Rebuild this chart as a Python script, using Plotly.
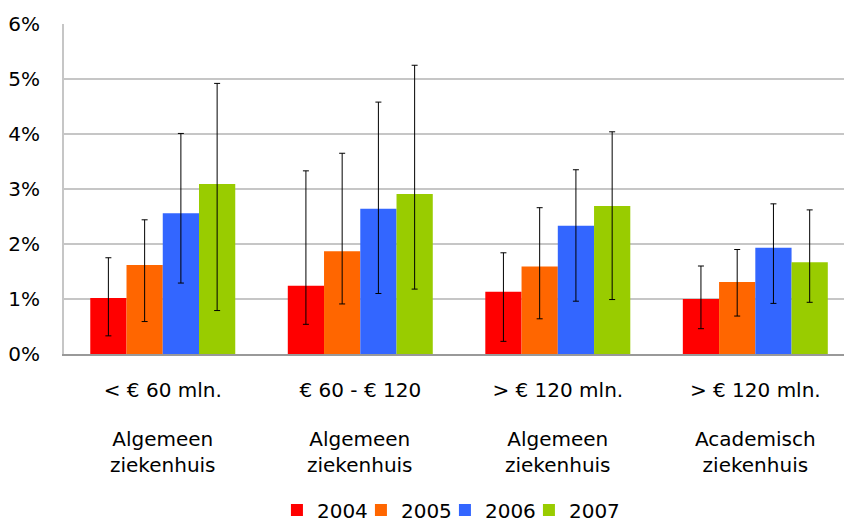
import plotly.graph_objects as go

size_labels = ["< € 60 mln.", "€ 60 - € 120", "> € 120 mln.", "> € 120 mln."]
type_labels = ["Algemeen<br>ziekenhuis", "Algemeen<br>ziekenhuis", "Algemeen<br>ziekenhuis", "Academisch<br>ziekenhuis"]
years = ["2004", "2005", "2006", "2007"]
colors = ["#FF0000", "#FF6600", "#3366FF", "#99CC00"]

# values in %
values = {
    "2004": [1.02, 1.24, 1.13, 1.00],
    "2005": [1.62, 1.87, 1.59, 1.31],
    "2006": [2.56, 2.64, 2.33, 1.93],
    "2007": [3.09, 2.91, 2.69, 1.67],
}
upper = {
    "2004": [1.75, 3.33, 1.84, 1.60],
    "2005": [2.44, 3.65, 2.66, 1.90],
    "2006": [4.01, 4.58, 3.35, 2.73],
    "2007": [4.92, 5.25, 4.04, 2.62],
}
lower = {
    "2004": [0.33, 0.54, 0.23, 0.46],
    "2005": [0.59, 0.91, 0.64, 0.69],
    "2006": [1.29, 1.10, 0.96, 0.92],
    "2007": [0.79, 1.18, 0.99, 0.94],
}
yticks = [0, 1, 2, 3, 4, 5, 6]
ytick_text = ["0%", "1%", "2%", "3%", "4%", "5%", "6%"]

FONT = "DejaVu Sans"
x_idx = list(range(len(size_labels)))

fig = go.Figure()
for k, (yr, col) in enumerate(zip(years, colors)):
    v = values[yr]
    fig.add_trace(go.Bar(
        x=x_idx, y=v, name=yr, marker=dict(color=col, line=dict(width=0)),
        legendwidth=(39 if k < len(years) - 1 else 70),
        error_y=dict(type="data", symmetric=False,
                     array=[u - a for u, a in zip(upper[yr], v)],
                     arrayminus=[a - l for a, l in zip(v, lower[yr])],
                     color="#000000", thickness=1, width=3),
    ))

for i, t in enumerate(type_labels):
    fig.add_annotation(x=i, y=-0.298, xref="x", yref="paper", text=t,
                       showarrow=False, xanchor="center", yanchor="middle",
                       font=dict(family=FONT, size=20, color="#000000"))

fig.update_layout(
    width=844, height=522,
    margin=dict(l=64, r=0, t=24, b=168, autoexpand=False),
    paper_bgcolor="white", plot_bgcolor="white",
    barmode="group", bargap=0.266, bargroupgap=0,
    font=dict(family=FONT, size=20, color="#000000"),
    showlegend=True,
    legend=dict(orientation="h", x=0.273, xanchor="left", y=-0.473, yanchor="middle",
                font=dict(family=FONT, size=20, color="#000000"),
                entrywidthmode="pixels", itemwidth=30,
                bgcolor="rgba(0,0,0,0)"),
    xaxis=dict(range=[-0.5, 3.449], tickmode="array", tickvals=x_idx, ticktext=size_labels,
               showgrid=False, showline=True, linecolor="#999999", linewidth=2,
               ticks="", ticklabelstandoff=17, zeroline=False, automargin=False,
               tickfont=dict(family=FONT, size=20, color="#000000")),
    yaxis=dict(range=[0, 6], tickmode="array", tickvals=yticks, ticktext=ytick_text,
               showgrid=True, gridcolor="#C6C6C6", gridwidth=2,
               showline=True, linecolor="#C6C6C6", linewidth=2, zeroline=False,
               ticks="", ticklabelstandoff=18, automargin=False,
               tickfont=dict(family=FONT, size=20, color="#000000")),
)

fig.write_html("out.html", config={"displayModeBar": False},
               post_script="document.body.style.margin='0';document.body.style.overflow='hidden';")
